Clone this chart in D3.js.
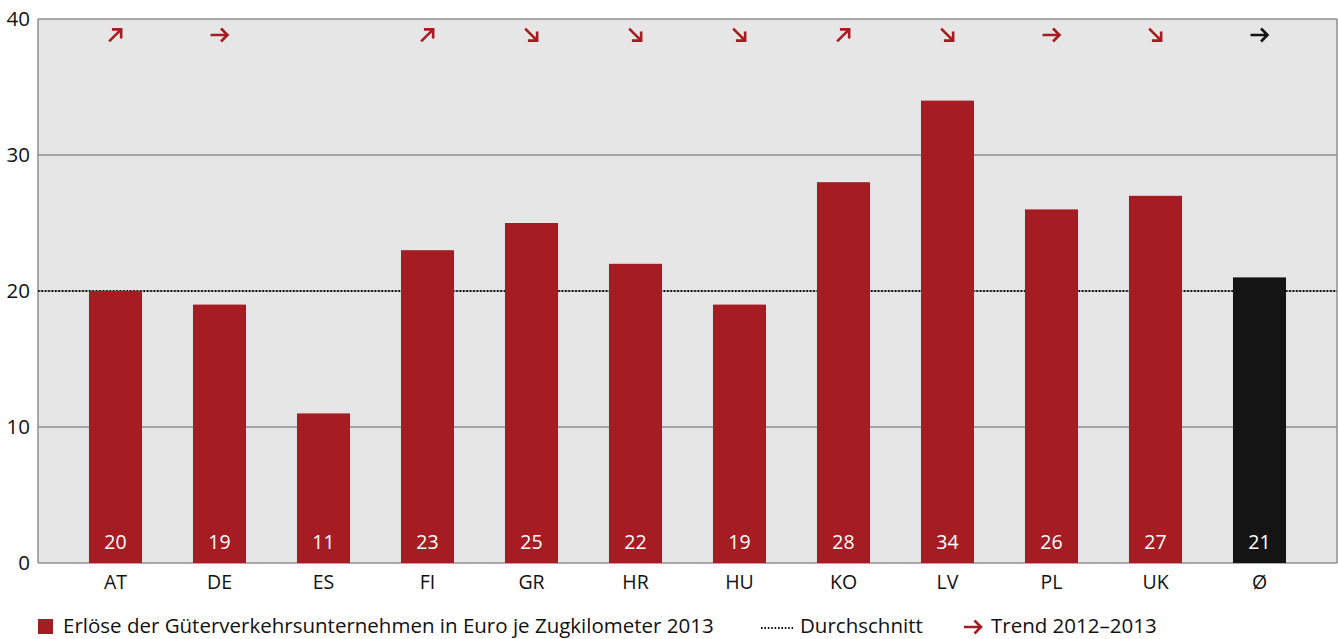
<!DOCTYPE html>
<html>
<head>
<meta charset="utf-8">
<script src="https://cdn.jsdelivr.net/npm/d3@7"></script>
<style>
  body { margin: 0; background: #fff; }
  svg text { font-family: "Open Sans", Lato, sans-serif; }
</style>
</head>
<body>
<div id="chart"></div>
<script>
// data
const countries = ['AT', 'DE', 'ES', 'FI', 'GR', 'HR', 'HU', 'KO', 'LV', 'PL', 'UK', 'Ø']
const revenue = [20, 19, 11, 23, 25, 22, 19, 28, 34, 26, 27, 21]
// trend arrow direction in degrees (0 = flat, -45 = up, 45 = down), null = no arrow
const trend = [-45, 0, null, -45, 45, 45, 45, -45, 45, 0, 45, 0]
const average = 20
const yTicks = [0, 10, 20, 30, 40]

const width = 1338
const height = 639
const red = '#a61c23'
const black = '#141414'
const plot = {left: 38, right: 1337, top: 19, bottom: 563}

const svg = d3.select('#chart')
  .append('svg')
  .attr('width', width)
  .attr('height', height)

const x = d3.scaleBand()
  .domain(countries)
  .range([63.5, 1311.5])
  .paddingInner(0.49)
  .paddingOuter(0.245)
const y = d3.scaleLinear().domain([0, 40]).range([plot.bottom, plot.top])

// background
svg.append('rect')
  .attr('x', plot.left)
  .attr('y', plot.top)
  .attr('width', plot.right - plot.left)
  .attr('height', plot.bottom - plot.top)
  .style('fill', '#e6e6e6')

// grid lines
svg.selectAll('.grid')
  .data(yTicks)
  .enter()
  .append('line')
  .attr('x1', plot.left)
  .attr('x2', plot.right)
  .attr('y1', d => y(d))
  .attr('y2', d => y(d))
  .style('stroke', '#8f8f8f')
  .style('stroke-width', 1.5)

svg.append('line')
  .attr('x1', plot.left).attr('x2', plot.left)
  .attr('y1', plot.top).attr('y2', plot.bottom)
  .style('stroke', '#8f8f8f').style('stroke-width', 1.5)
svg.append('line')
  .attr('x1', plot.right).attr('x2', plot.right)
  .attr('y1', plot.top).attr('y2', plot.bottom)
  .style('stroke', '#8f8f8f').style('stroke-width', 1.5)

// average line
svg.append('line')
  .attr('x1', plot.left)
  .attr('x2', plot.right)
  .attr('y1', y(average))
  .attr('y2', y(average))
  .style('stroke', '#111')
  .style('stroke-width', 1.8)
  .style('stroke-dasharray', '1.6,1.8')

// bars
svg.selectAll('.bar')
  .data(countries)
  .enter()
  .append('rect')
  .attr('x', d => x(d))
  .attr('y', (d, i) => y(revenue[i]))
  .attr('width', x.bandwidth())
  .attr('height', (d, i) => y(0) - y(revenue[i]))
  .style('fill', (d, i) => i === countries.length - 1 ? black : red)

// value labels
svg.selectAll('.val')
  .data(countries)
  .enter()
  .append('text')
  .attr('x', d => x(d) + x.bandwidth() / 2)
  .attr('y', 549)
  .attr('text-anchor', 'middle')
  .style('font-size', '19.5px')
  .style('fill', '#fff')
  .text((d, i) => revenue[i])

// y axis labels
svg.selectAll('.ytick')
  .data(yTicks)
  .enter()
  .append('text')
  .attr('x', 30)
  .attr('y', d => y(d) + 7)
  .attr('text-anchor', 'end')
  .style('font-size', '20.5px')
  .style('fill', '#111')
  .text(d => d)

// x axis labels
svg.selectAll('.xtick')
  .data(countries)
  .enter()
  .append('text')
  .attr('x', d => x(d) + x.bandwidth() / 2)
  .attr('y', 589)
  .attr('text-anchor', 'middle')
  .style('font-size', '19.5px')
  .style('fill', '#111')
  .text(d => d)

let arrow = function (g, angle, color) {
  g.append('path')
    .attr('d', 'M-9,0 L8,0 M1.5,-6.5 L8,0 L1.5,6.5')
    .attr('transform', `rotate(${angle})`)
    .style('fill', 'none')
    .style('stroke', color)
    .style('stroke-width', 2.6)
}

// trend arrows
countries.forEach((c, i) => {
  if (trend[i] === null) return
  let g = svg.append('g')
    .attr('transform', `translate(${x(c) + x.bandwidth() / 2}, 35)`)
  arrow(g, trend[i], i === countries.length - 1 ? black : red)
})

// legend
const legendY = 627
const legendBase = 633
svg.append('rect')
  .attr('x', 38).attr('y', legendY - 8)
  .attr('width', 15).attr('height', 15)
  .style('fill', red)
svg.append('text')
  .attr('x', 63).attr('y', legendBase)
  .style('font-size', '20.5px').style('fill', '#111')
  .text('Erlöse der Güterverkehrsunternehmen in Euro je Zugkilometer 2013')
svg.append('line')
  .attr('x1', 761).attr('x2', 793)
  .attr('y1', legendY + 1).attr('y2', legendY + 1)
  .style('stroke', '#111')
  .style('stroke-width', 1.8)
  .style('stroke-dasharray', '1.6,1.8')
svg.append('text')
  .attr('x', 800).attr('y', legendBase)
  .style('font-size', '20.5px').style('fill', '#111')
  .text('Durchschnitt')
arrow(svg.append('g').attr('transform', `translate(973, ${legendY})`), 0, red)
svg.append('text')
  .attr('x', 991).attr('y', legendBase)
  .style('font-size', '20.5px').style('fill', '#111')
  .text('Trend 2012–2013')
</script>
</body>
</html>
